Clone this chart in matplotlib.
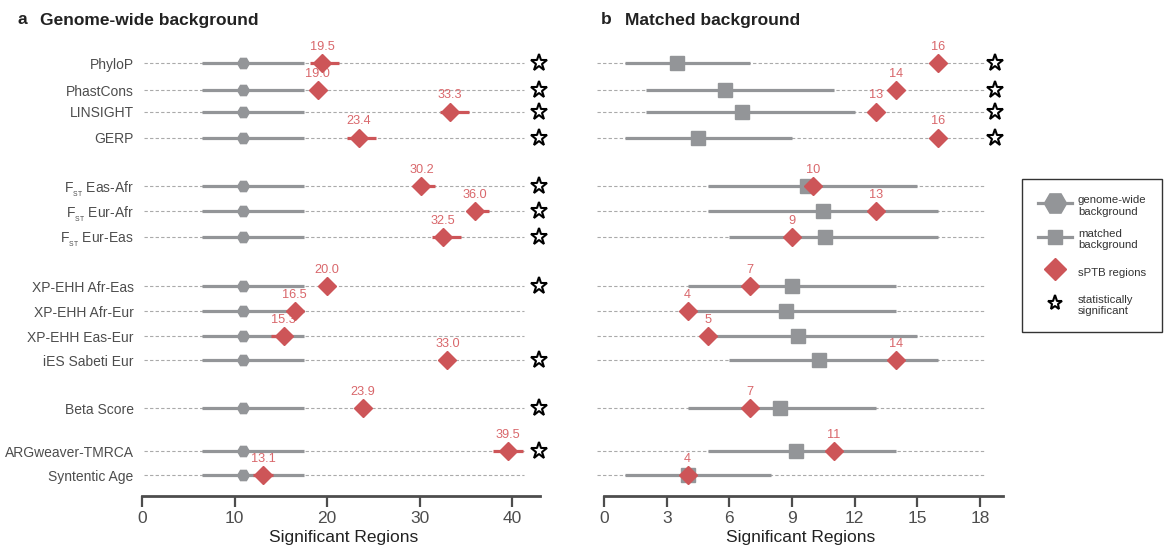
import matplotlib
matplotlib.use("Agg")
import matplotlib.pyplot as plt
from matplotlib.lines import Line2D

plt.rcParams['font.family'] = ['Liberation Sans', 'DejaVu Sans']
plt.rcParams['mathtext.fontset'] = 'custom'
plt.rcParams['mathtext.rm'] = 'Liberation Sans'
plt.rcParams['mathtext.it'] = 'Liberation Sans'

# Данные
labels = ["PhyloP", "PhastCons", "LINSIGHT", "GERP",
          r"F$_{_{\mathrm{ST}}}$ Eas-Afr", r"F$_{_{\mathrm{ST}}}$ Eur-Afr",
          r"F$_{_{\mathrm{ST}}}$ Eur-Eas",
          "XP-EHH Afr-Eas", "XP-EHH Afr-Eur", "XP-EHH Eas-Eur", "iES Sabeti Eur",
          "Beta Score", "ARGweaver-TMRCA", "Syntentic Age"]

# a: genome-wide background (one null for all)
gw_low, gw_mid, gw_high = 6.5, 10.9, 17.5
gw_sptb = [19.5, 19.0, 33.3, 23.4, 30.2, 36.0, 32.5, 20.0, 16.5, 15.3, 33.0, 23.9, 39.5, 13.1]
gw_sptb_lo = [18.1, 19.0, 32.2, 22.1, 29.3, 35.2, 31.3, 20.0, 16.1, 13.9, 33.0, 23.9, 37.9, 12.0]
gw_sptb_hi = [21.3, 19.0, 35.3, 25.3, 31.7, 37.5, 34.5, 20.0, 17.2, 16.2, 33.0, 23.9, 41.2, 14.1]
gw_signif = [1, 1, 1, 1, 1, 1, 1, 1, 0, 0, 1, 1, 1, 0]

# b: matched background
mb_low = [1, 2, 2, 1, 5, 5, 6, 4, 4, 5, 6, 4, 5, 1]
mb_mid = [3.5, 5.8, 6.6, 4.5, 9.7, 10.5, 10.6, 9.0, 8.7, 9.3, 10.3, 8.4, 9.2, 4.0]
mb_high = [7, 11, 12, 9, 15, 16, 16, 14, 14, 15, 16, 13, 14, 8]
mb_sptb = [16, 14, 13, 16, 10, 13, 9, 7, 4, 5, 14, 7, 11, 4]
mb_signif = [1, 1, 1, 1, 0, 0, 0, 0, 0, 0, 0, 0, 0, 0]

# положение строк (группы с промежутками)
rows = [0, 1.1, 1.97, 3.03, 5.0, 6.02, 7.07, 9.07, 10.08, 11.1, 12.07, 14.02, 15.77, 16.75]

gray = "#939598"
red = "#cd5558"
red_txt = "#d9676b"
dark = "#4d4d4d"

fig = plt.figure(figsize=(11.73, 5.54), dpi=100)
ax1 = fig.add_axes([136.5 / 1173, 0.1047, 0.3534, 0.8231])
ax2 = fig.add_axes([593.6 / 1173, 0.1047, 0.3526, 0.8231])


def style_axis(ax, xmax, ticks):
    for s in ["top", "right", "left"]:
        ax.spines[s].set_visible(False)
    ax.spines["bottom"].set_color(dark)
    ax.spines["bottom"].set_linewidth(2)
    ax.spines["bottom"].set_bounds(0, xmax)
    ax.set_xticks(ticks)
    ax.tick_params(axis="x", length=8, width=1.6, color=dark, labelsize=12.5,
                   labelcolor=dark, pad=3)
    ax.set_xlabel("Significant Regions", fontsize=12.5, color="#222222", labelpad=3)
    ax.set_ylim(17.59, -0.95)


# панель a
ax1.hlines(rows, 0.2, 41.3, color="#aaaaaa", lw=0.8, linestyle=(0, (3, 2)), zorder=1)
ax1.hlines(rows, gw_low, gw_high, color=gray, lw=2.3, zorder=2)
ax1.plot([gw_mid] * len(rows), rows, "H", color=gray, ms=8.5, zorder=3, ls="none")
ax1.hlines(rows, gw_sptb_lo, gw_sptb_hi, color=red, lw=2.3, zorder=4)
ax1.plot(gw_sptb, rows, "D", color=red, ms=8.8, zorder=5, ls="none")
for x, y in zip(gw_sptb, rows):
    ax1.annotate(f"{x:.1f}", (x, y), xytext=(0, 12), textcoords="offset points",
                 ha="center", va="center", fontsize=9.2, color=red_txt)
for y, s in zip(rows, gw_signif):
    if s:
        ax1.plot(42.9, y, "*", ms=12.5, mfc="white", mec="black", mew=1.5, clip_on=False)
ax1.set_xlim(-0.6, 44.2)
ax1.set_yticks(rows)
ax1.set_yticklabels(labels, fontsize=10, color=dark)
ax1.tick_params(axis="y", length=0, pad=2)
style_axis(ax1, 43, [0, 10, 20, 30, 40])

# панель b
ax2.hlines(rows, -0.33, 18.2, color="#aaaaaa", lw=0.8, linestyle=(0, (3, 2)), zorder=1)
ax2.hlines(rows, mb_low, mb_high, color=gray, lw=2.3, zorder=2)
ax2.plot(mb_mid, rows, "s", color=gray, ms=9.6, zorder=3, ls="none")
ax2.plot(mb_sptb, rows, "D", color=red, ms=8.8, zorder=5, ls="none")
for x, y in zip(mb_sptb, rows):
    ax2.annotate(f"{x}", (x, y), xytext=(0, 12), textcoords="offset points",
                 ha="center", va="center", fontsize=9.2, color=red_txt)
for y, s in zip(rows, mb_signif):
    if s:
        ax2.plot(18.7, y, "*", ms=12.5, mfc="white", mec="black", mew=1.5, clip_on=False)
ax2.set_xlim(-0.5, 19.3)
ax2.set_yticks([])
style_axis(ax2, 19.1, [0, 3, 6, 9, 12, 15, 18])

# заголовки
fig.text(17 / 1173, 1 - 20 / 554, "a", fontsize=12.5, fontweight="bold", va="center", color="#222222")
fig.text(40 / 1173, 1 - 20 / 554, "Genome-wide background", fontsize=12.5, fontweight="bold",
         va="center", color="#222222")
fig.text(601 / 1173, 1 - 20 / 554, "b", fontsize=12.5, fontweight="bold", va="center", color="#222222")
fig.text(625 / 1173, 1 - 20 / 554, "Matched background", fontsize=12.5, fontweight="bold",
         va="center", color="#222222")

# легенда
handles = [
    Line2D([], [], color=gray, lw=2.3, marker="H", ms=16),
    Line2D([], [], color=gray, lw=2.3, marker="s", ms=10),
    Line2D([], [], color=red, lw=0, marker="D", ms=11.5),
    Line2D([], [], color="black", lw=0, marker="*", ms=11, mfc="white", mew=1.5),
]
leg_labels = ["genome-wide\nbackground", "matched\nbackground", "sPTB regions",
              "statistically\nsignificant"]
leg = fig.legend(handles, leg_labels, loc="upper left",
                 bbox_to_anchor=(1022 / 1173, 1 - 179.5 / 554),
                 fontsize=8.2, frameon=True, fancybox=False, edgecolor="black",
                 handlelength=3.0, handleheight=2.2, handletextpad=0.5,
                 labelspacing=1.1, borderpad=1.4, borderaxespad=0)
leg.get_frame().set_linewidth(1.0)
for t in leg.get_texts():
    t.set_color("#333333")
    t.set_linespacing(1.15)

fig.savefig("out.png", dpi=100)
